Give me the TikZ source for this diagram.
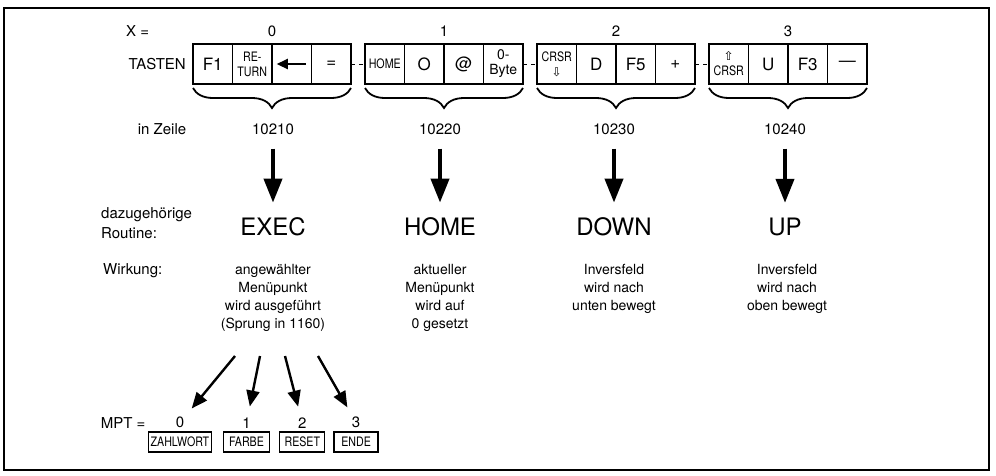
\documentclass[tikz,border=0pt]{standalone}
\usepackage{fontspec}
\setmainfont{TeX Gyre Heros}
\newfontfamily\pfeilfont{DejaVu Sans}
\usepackage{tikz}
\usetikzlibrary{arrows.meta, positioning, decorations.pathreplacing}
\newcommand{\schmal}[1]{\scalebox{0.82}[1]{#1}}

\begin{document}
\begin{tikzpicture}[x=1pt, y=-1pt,
    taste/.style={draw, line width=1.3pt, minimum width=39.5pt,
      minimum height=40pt, inner sep=0pt, outer sep=0pt, align=center,
      font=\fontsize{17}{17}\selectfont},
    klein/.style={font=\fontsize{13}{15}\selectfont},
    beschr/.style={inner sep=1pt, font=\fontsize{15}{20}\selectfont},
    routine/.style={inner sep=1pt, font=\fontsize{24}{24}\selectfont},
    wirk/.style={anchor=north, align=center, inner sep=1pt,
      font=\fontsize{14}{18}\selectfont},
    menue/.style={draw, line width=1.3pt, minimum height=20pt,
      inner xsep=2pt, inner ysep=0pt, font=\fontsize{13}{13}\selectfont},
    pfeil/.style={line width=4pt, -{Triangle[length=24pt, width=18pt]}},
    zweig/.style={line width=2.4pt, -{Triangle[length=16pt, width=13pt]}},
    klammer/.style={decorate, line width=1.8pt,
      decoration={brace, mirror, amplitude=20pt, raise=4pt}}]
  \useasboundingbox (0,0) rectangle (996,475);
  \draw[line width=1.5pt] (4,8) rectangle (989,470);

  \node[taste] (k00) at (212.75,64) {F1};
  \node[taste, klein, right=0pt of k00] (k01) {\schmal{RE-}\\\schmal{TURN}};
  \node[taste, right=0pt of k01] (k02) {};
  \node[taste, right=0pt of k02] (k03) {=};
  \node[taste, klein, right=14pt of k03] (k10) {\schmal{HOME}};
  \node[taste, right=0pt of k10] (k11) {O};
  \node[taste, right=0pt of k11] (k12) {@};
  \node[taste, font=\fontsize{14}{15}\selectfont, right=0pt of k12] (k13) {0-\\Byte};
  \node[taste, klein, right=14pt of k13] (k20)
    {\schmal{CRSR}\\{\pfeilfont\fontsize{12}{12}\selectfont ⇩}};
  \node[taste, right=0pt of k20] (k21) {D};
  \node[taste, right=0pt of k21] (k22) {F5};
  \node[taste, right=0pt of k22] (k23) {+};
  \node[taste, klein, right=14pt of k23] (k30)
    {{\pfeilfont\fontsize{12}{12}\selectfont ⇧}\\\schmal{CRSR}};
  \node[taste, right=0pt of k30] (k31) {U};
  \node[taste, right=0pt of k31] (k32) {F3};
  \node[taste, right=0pt of k32] (k33) {—};
  \draw[line width=2.2pt, -{Triangle[length=11pt, width=10pt]}]
    ([xshift=14pt]k02.center) -- ([xshift=-15pt]k02.center);

  \draw[line width=1pt, dash pattern=on 4pt off 4pt] (k03.east) -- (k10.west);
  \draw[line width=1pt, dash pattern=on 4pt off 4pt] (k13.east) -- (k20.west);
  \draw[line width=1pt, dash pattern=on 4pt off 4pt] (k23.east) -- (k30.west);

  \node[beschr, above=6pt of k01.north east] (x0) {0};
  \node[beschr, above=6pt of k11.north east] (x1) {1};
  \node[beschr, above=6pt of k21.north east] (x2) {2};
  \node[beschr, above=6pt of k31.north east] (x3) {3};
  \node[beschr, anchor=west] (xgl) at (125,31.5) {X =};
  \node[beschr, left=6pt of k00] (tasten) {TASTEN};

  \draw[klammer] (k00.south west) -- (k03.south east);
  \draw[klammer] (k10.south west) -- (k13.south east);
  \draw[klammer] (k20.south west) -- (k23.south east);
  \draw[klammer] (k30.south west) -- (k33.south east);

  \node[beschr] (zeile) at (162,129) {in Zeile};
  \node[beschr] (z0) at (273,129) {10210};
  \node[beschr] (z1) at (440,129) {10220};
  \node[beschr] (z2) at (614,129) {10230};
  \node[beschr] (z3) at (785,129) {10240};

  \node[beschr, anchor=west, align=left] (dazu) at (100,223) {dazugehörige\\Routine:};
  \node[routine] (r0) at (273,227) {EXEC};
  \node[routine] (r1) at (440,227) {HOME};
  \node[routine] (r2) at (614,227) {DOWN};
  \node[routine] (r3) at (785,227) {UP};
  \draw[pfeil, shorten <=13pt, shorten >=14pt] (z0) -- (r0);
  \draw[pfeil, shorten <=13pt, shorten >=14pt] (z1) -- (r1);
  \draw[pfeil, shorten <=13pt, shorten >=14pt] (z2) -- (r2);
  \draw[pfeil, shorten <=13pt, shorten >=14pt] (z3) -- (r3);

  \node[beschr, anchor=west] (wirkung) at (102,271) {Wirkung:};
  \node[wirk] (w0) at (273,263) {angewählter\\Menüpunkt\\wird ausgeführt\\(Sprung in 1160)};
  \node[wirk] (w1) at (440,263) {aktueller\\Menüpunkt\\wird auf\\0 gesetzt};
  \node[wirk] (w2) at (614,263) {Inversfeld\\wird nach\\unten bewegt};
  \node[wirk] (w3) at (787,263) {Inversfeld\\wird nach\\oben bewegt};

  \node[menue, minimum width=62pt, anchor=west] (b0) at (148,442) {\schmal{ZAHLWORT}};
  \node[menue, minimum width=46pt, right=11pt of b0] (b1) {\schmal{FARBE}};
  \node[menue, minimum width=45pt, right=9pt of b1] (b2) {\schmal{RESET}};
  \node[menue, minimum width=44pt, right=8pt of b2] (b3) {\schmal{ENDE}};
  \node[beschr, above=2pt of b0] (m0) {0};
  \node[beschr, above=2pt of b1] (m1) {1};
  \node[beschr, above=2pt of b2] (m2) {2};
  \node[beschr, above=2pt of b3] (m3) {3};
  \node[beschr, left=28pt of m0] (mpt) {MPT =};

  \coordinate (s0) at (235,356);
  \coordinate (s1) at (260,356);
  \coordinate (s2) at (285,356);
  \coordinate (s3) at (318,356);
  \draw[zweig, shorten >=10pt] (s0) -- (m0);
  \draw[zweig, shorten >=10pt] (s1) -- (m1);
  \draw[zweig, shorten >=10pt] (s2) -- (m2);
  \draw[zweig, shorten >=10pt] (s3) -- (m3);
\end{tikzpicture}
\end{document}
